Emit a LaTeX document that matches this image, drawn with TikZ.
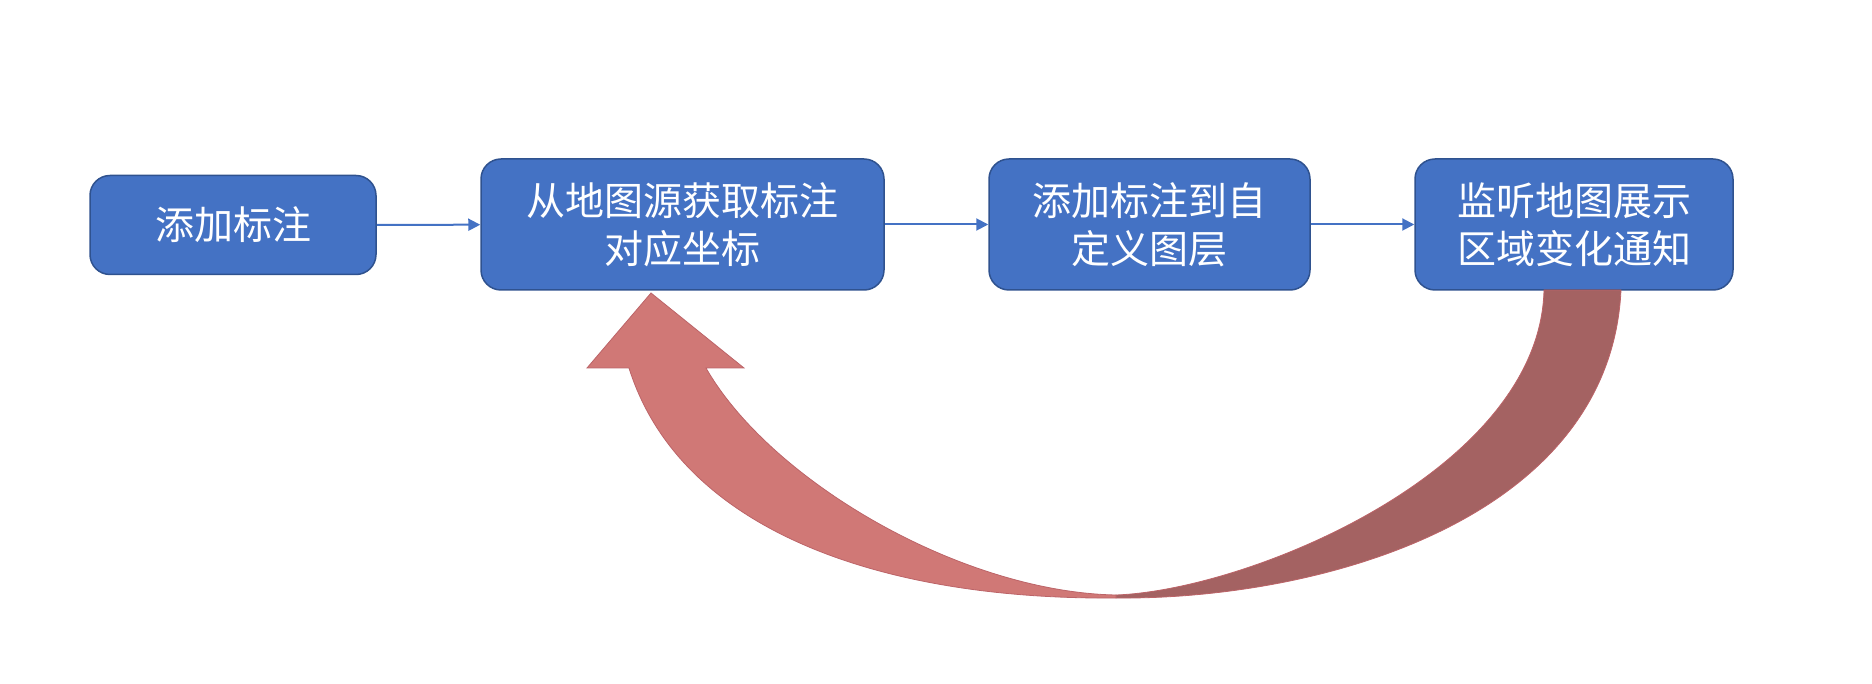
\documentclass[tikz,border=0pt]{standalone}
\usepackage{fontspec}
\setmainfont{Noto Sans CJK SC}
\usetikzlibrary{arrows.meta}
\definecolor{boxblue}{HTML}{4472C4}
\definecolor{boxline}{HTML}{2F528F}
\definecolor{arrowlight}{HTML}{D07876}
\definecolor{arrowdark}{HTML}{A46262}
\definecolor{arrowline}{HTML}{BC6468}
\begin{document}
\begin{tikzpicture}[x=1pt,y=-1pt,
    stepbox/.style={draw=boxline, line width=1.5pt, fill=boxblue,
      rounded corners=20pt, text=white, align=center, inner sep=0pt,
      minimum height=131pt, font=\fontsize{39}{48}\selectfont},
    link/.style={draw=boxblue, line width=2pt,
      -{Triangle[length=12pt,width=12pt]}}]
  \useasboundingbox (0,0) rectangle (1872,684);
  \draw
    (233,225) node[stepbox, minimum width=286pt, minimum height=99pt] (0){添加标注}
    (682.5,224.5) node[stepbox, minimum width=403pt] (1){从地图源获取标注\\对应坐标}
    (1149.5,224.5) node[stepbox, minimum width=321pt] (2){添加标注到自\\定义图层}
    (1574,224.5) node[stepbox, minimum width=318pt] (3){监听地图展示\\区域变化通知};
  \begin{scope}[link]
    \draw (0) to (1);
    \draw (1) to (2);
    \draw (2) to (3);
  \end{scope}
  % curved arrow back from the last box
  \coordinate (tip) at (651,293);
  \coordinate (low) at (1116,598);
  \coordinate (lowin) at (1116,595);
  \fill[arrowdark, draw=arrowline, line width=0.8pt]
    (1544,290) -- (1621,290)
    .. controls (1610,520) and (1320,600) .. (low)
    -- (lowin)
    .. controls (1250,590) and (1540,470) .. (1544,290) -- cycle;
  \fill[arrowlight, draw=arrowline, line width=0.8pt]
    (tip) -- (744,368) -- (706,368)
    .. controls (770,480) and (960,592) .. (lowin)
    -- (low)
    .. controls (880,600) and (680,530) .. (629,368)
    -- (587,368) -- cycle;
\end{tikzpicture}
\end{document}
